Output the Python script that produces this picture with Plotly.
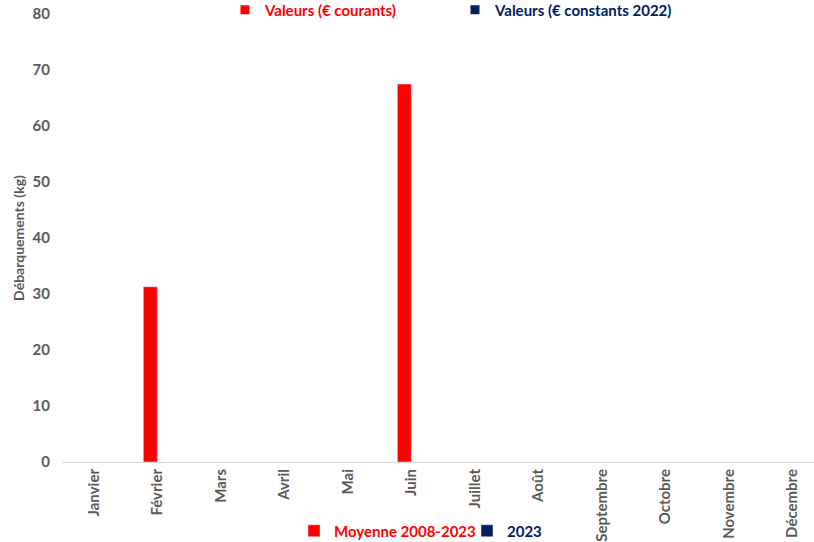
import plotly.graph_objects as go

mois = ["Janvier", "Février", "Mars", "Avril", "Mai", "Juin", "Juillet", "Août",
        "Septembre", "Octobre", "Novembre", "Décembre"]
moyenne_2008_2023 = [0, 31.3, 0, 0, 0, 67.5, 0, 0, 0, 0, 0, 0]
valeurs_2023 = [0, 0, 0, 0, 0, 0, 0, 0, 0, 0, 0, 0]
y_ticks = [0, 10, 20, 30, 40, 50, 60, 70, 80]

RED = "#FF0000"
NAVY = "#002060"
GRAY = "#595959"
FONT = "Lato"


def navy(t):
    return f"<span style='color:{NAVY}'>{t}</span>"


fig = go.Figure()
fig.add_trace(go.Bar(x=mois, y=moyenne_2008_2023, name="Moyenne 2008-2023",
                     marker=dict(color=RED), legend="legend"))
fig.add_trace(go.Bar(x=mois, y=valeurs_2023, name=navy("2023"),
                     marker=dict(color=NAVY), legend="legend"))
# header legend entries
fig.add_trace(go.Scatter(x=[None], y=[None], mode="markers", name="Valeurs (€ courants)",
                         marker=dict(color=RED, symbol="square", size=9), legend="legend2"))
fig.add_trace(go.Scatter(x=[None], y=[None], mode="markers", name=navy("Valeurs (€ constants 2022)"),
                         marker=dict(color=NAVY, symbol="square", size=9), legend="legend2"))

fig.update_layout(
    width=814, height=542,
    margin=dict(l=62, r=0, t=14, b=80, autoexpand=False),
    paper_bgcolor="white", plot_bgcolor="white",
    barmode="group", bargap=0.56, bargroupgap=0,
    font=dict(family=FONT, color=GRAY, size=13),
    showlegend=True,
    legend=dict(orientation="h", xref="container", yref="container",
                x=294 / 814, xanchor="left", y=1 - 531 / 542, yanchor="middle",
                font=dict(family=FONT, size=15, color=RED, weight="bold"),
                itemwidth=30, entrywidth=128, tracegroupgap=0, bgcolor="rgba(0,0,0,0)"),
    legend2=dict(orientation="h", xref="container", yref="container",
                 x=225 / 814, xanchor="left", y=1 - 10 / 542, yanchor="middle",
                 font=dict(family=FONT, size=15, color=RED, weight="bold"),
                 itemwidth=30, entrywidth=185, bgcolor="rgba(0,0,0,0)"),
    xaxis=dict(range=[-0.5, 11.34], tickangle=-90, showline=True, linecolor="#D9D9D9",
               linewidth=1, ticks="", showgrid=False, automargin=False,
               tickfont=dict(family=FONT, size=15, color=GRAY, weight="bold")),
    yaxis=dict(range=[0, 80], tickvals=y_ticks, showgrid=False, zeroline=False,
               showline=False, ticks="", ticklabelstandoff=11, automargin=False,
               tickfont=dict(family=FONT, size=15, color=GRAY, weight="bold"),
               title=dict(text="Débarquements (kg)", standoff=4,
                          font=dict(family=FONT, size=14, color=GRAY, weight="bold"))),
)
fig.write_html("out.html", config={"displayModeBar": False},
               post_script="document.body.style.margin='0';")
